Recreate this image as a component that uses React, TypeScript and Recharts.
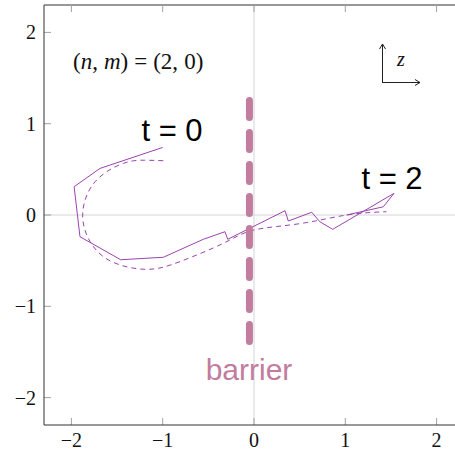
import React from 'react';
import { LineChart, Line, XAxis, YAxis, ReferenceLine } from 'recharts';

// Axis setup
const xTicks = [-2, -1, 0, 1, 2];
const yTicks = [-2, -1, 0, 1, 2];
const xDomain: [number, number] = [-2.3, 2.3];
const yDomain: [number, number] = [-2.3, 2.3];
const tickLen = 0.077;

// Instantaneous trajectory of the wave packet centre (t = 0 → t = 2)
const trajectory = [
  { x: -1.0, y: 0.74 },
  { x: -1.687, y: 0.51 },
  { x: -1.97, y: 0.31 },
  { x: -1.906, y: -0.238 },
  { x: -1.46, y: -0.49 },
  { x: -0.993, y: -0.463 },
  { x: -0.555, y: -0.266 },
  { x: -0.318, y: -0.183 },
  { x: -0.288, y: -0.266 },
  { x: 0.34, y: 0.047 },
  { x: 0.376, y: -0.066 },
  { x: 0.632, y: 0.03 },
  { x: 0.72, y: -0.073 },
  { x: 0.862, y: -0.157 },
  { x: 1.533, y: 0.237 },
  { x: 1.416, y: 0.09 },
  { x: 1.015, y: 0.0 },
];

// Smoothed (time-averaged) trajectory
const averaged = [
  { x: -0.993, y: 0.595 },
  { x: -1.2, y: 0.6 },
  { x: -1.43, y: 0.566 },
  { x: -1.74, y: 0.365 },
  { x: -1.876, y: 0.02 },
  { x: -1.796, y: -0.29 },
  { x: -1.56, y: -0.51 },
  { x: -1.175, y: -0.595 },
  { x: -0.81, y: -0.51 },
  { x: -0.336, y: -0.31 },
  { x: 0.0, y: -0.164 },
  { x: 0.5, y: -0.095 },
  { x: 1.015, y: 0.0 },
  { x: 1.45, y: 0.036 },
];

// Barrier position
const barrier = [
  { x: -0.05, y: 1.254 },
  { x: -0.05, y: -1.386 },
];

const purple = '#9a45ad';
const mauve = '#c27c9e';
const serif = "'Liberation Serif', 'DejaVu Serif', serif";
const sans = "'Liberation Sans', Arial, sans-serif";

const fmt = (v: number) => (v < 0 ? `\u2212${Math.abs(v)}` : `${v}`);

const XTick = (props: any) => (
  <text
    x={props.x}
    y={props.y + 22}
    textAnchor="middle"
    fontFamily={serif}
    fontSize={20}
    fill="#111"
  >
    {fmt(props.payload.value)}
  </text>
);

const YTick = (props: any) => (
  <text
    x={props.x - 8}
    y={props.y + 7}
    textAnchor="end"
    fontFamily={serif}
    fontSize={20}
    fill="#111"
  >
    {fmt(props.payload.value)}
  </text>
);

export default function App() {
  return (
    <div
      style={{
        position: 'absolute',
        left: 0,
        top: 0,
        width: 455,
        height: 454,
        overflow: 'hidden',
        background: '#fff',
      }}
    >
      <LineChart
        width={470}
        height={454}
        margin={{ top: 5, right: 6, bottom: 0, left: 0 }}
      >
        <XAxis
          type="number"
          dataKey="x"
          domain={xDomain}
          ticks={xTicks}
          allowDataOverflow
          height={29}
          tickLine={false}
          tickSize={0}
          tickMargin={0}
          tick={XTick}
          axisLine={{ stroke: '#333', strokeWidth: 1 }}
        />
        <YAxis
          type="number"
          dataKey="y"
          domain={yDomain}
          ticks={yTicks}
          allowDataOverflow
          width={44}
          tickLine={false}
          tickSize={0}
          tickMargin={0}
          tick={YTick}
          axisLine={{ stroke: '#333', strokeWidth: 1 }}
        />
        <ReferenceLine x={0} stroke="#d4d4d4" strokeWidth={1} />
        <ReferenceLine y={0} stroke="#d4d4d4" strokeWidth={1} />
        <ReferenceLine y={yDomain[1]} stroke="#333" strokeWidth={1} ifOverflow="visible" />
        {xTicks.map((t) => (
          <ReferenceLine
            key={`xb${t}`}
            ifOverflow="visible"
            segment={[
              { x: t, y: yDomain[0] },
              { x: t, y: yDomain[0] + tickLen },
            ]}
            stroke="#a0a0a0"
          />
        ))}
        {xTicks.map((t) => (
          <ReferenceLine
            key={`xt${t}`}
            ifOverflow="visible"
            segment={[
              { x: t, y: yDomain[1] },
              { x: t, y: yDomain[1] - tickLen },
            ]}
            stroke="#a0a0a0"
          />
        ))}
        {yTicks.map((t) => (
          <ReferenceLine
            key={`yl${t}`}
            ifOverflow="visible"
            segment={[
              { x: xDomain[0], y: t },
              { x: xDomain[0] + tickLen, y: t },
            ]}
            stroke="#a0a0a0"
          />
        ))}
        <Line
          data={averaged}
          dataKey="y"
          type="natural"
          stroke={purple}
          strokeWidth={1}
          strokeDasharray="5 4"
          dot={false}
          isAnimationActive={false}
        />
        <Line
          data={trajectory}
          dataKey="y"
          type="linear"
          stroke={purple}
          strokeWidth={1}
          dot={false}
          isAnimationActive={false}
        />
        <Line
          data={barrier}
          dataKey="y"
          type="linear"
          stroke={mauve}
          strokeWidth={7}
          strokeDasharray="17 15"
          strokeLinecap="round"
          dot={false}
          isAnimationActive={false}
        />
      </LineChart>
      <svg
        width={455}
        height={454}
        style={{ position: 'absolute', left: 0, top: 0, pointerEvents: 'none' }}
      >
        <text x={73} y={69} fontFamily={serif} fontSize={23} fill="#111">
          <tspan>(</tspan>
          <tspan fontStyle="italic">n</tspan>
          <tspan>,</tspan>
          <tspan dx={6} fontStyle="italic">m</tspan>
          <tspan>)</tspan>
          <tspan dx={6}>=</tspan>
          <tspan dx={6}>(2,</tspan>
          <tspan dx={6}>0)</tspan>
        </text>
        <defs>
          <marker id="ah" markerWidth="8" markerHeight="8" refX="6" refY="4" orient="auto">
            <path d="M1,1 L6,4 L1,7" fill="none" stroke="#222" strokeWidth={1} />
          </marker>
        </defs>
        <line x1={382.5} y1={82.5} x2={382.5} y2={44} stroke="#222" strokeWidth={1} markerEnd="url(#ah)" />
        <line x1={382} y1={82.5} x2={420} y2={82.5} stroke="#222" strokeWidth={1} markerEnd="url(#ah)" />
        <text x={401} y={66} textAnchor="middle" fontFamily={serif} fontStyle="italic" fontSize={20} fill="#111">
          z
        </text>
        <text x={172} y={141} textAnchor="middle" fontFamily={sans} fontSize={31} fill="#000">
          t = 0
        </text>
        <text x={392} y={189} textAnchor="middle" fontFamily={sans} fontSize={31} fill="#000">
          t = 2
        </text>
        <text x={249} y={380} textAnchor="middle" fontFamily={sans} fontSize={30} fill={mauve}>
          barrier
        </text>
      </svg>
    </div>
  );
}
